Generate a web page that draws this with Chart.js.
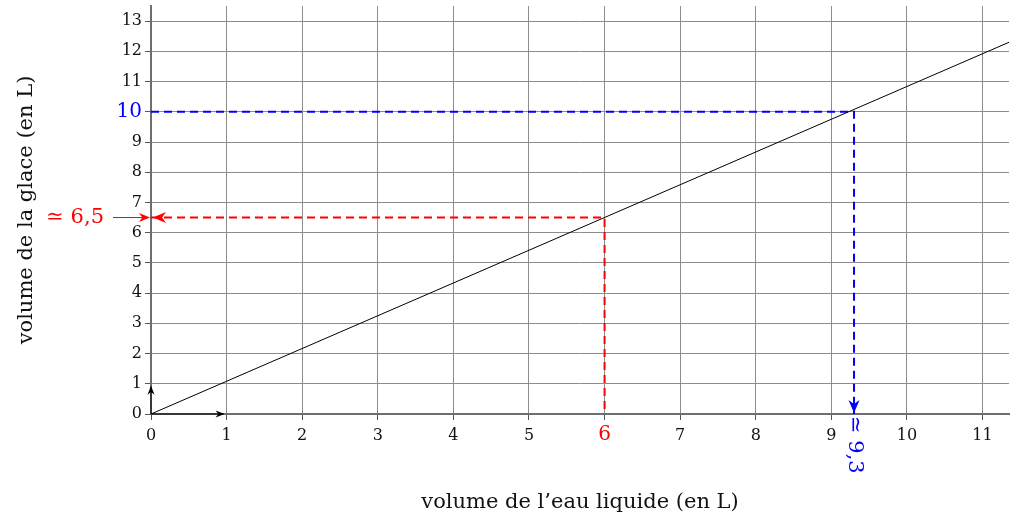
<!DOCTYPE html>
<html>

<head>
  <title>Volume de la glace</title>
  <script src="https://cdn.jsdelivr.net/npm/chart.js"></script>
  <style>
    body { margin: 0; background: #fff; }
    #wrap { width: 1010px; height: 517px; }
  </style>
</head>

<body>
  <div id="wrap"><canvas id="iceChart"></canvas></div>
  <script>
    // droite : volume d'eau liquide (L) -> volume de glace (L)
    var waterVolume = [0, 11.35];
    var iceVolume = [0, 12.3];

    // lectures graphiques
    var readWater = 6;      // image de 6 ...
    var readIce = 6.5;      // ... environ 6,5
    var targetIce = 10;     // antecedent de 10 ...
    var targetWater = 9.3;  // ... environ 9,3

    var xTicks = [0, 1, 2, 3, 4, 5, 6, 7, 8, 9, 10, 11];
    var yTicks = [0, 1, 2, 3, 4, 5, 6, 7, 8, 9, 10, 11, 12, 13];
    var xMax = 11.35;
    var yMax = 13.5;

    var RED = '#ff0000';
    var BLUE = '#0000ff';
    var FONT = "'DejaVu Serif', serif";

    function arrowHead(ctx, x, y, angle, len, half, color) {
      ctx.save();
      ctx.translate(x, y);
      ctx.rotate(angle);
      ctx.fillStyle = color;
      ctx.beginPath();
      ctx.moveTo(0, 0);
      ctx.lineTo(-len, -half);
      ctx.lineTo(-len * 0.7, 0);
      ctx.lineTo(-len, half);
      ctx.closePath();
      ctx.fill();
      ctx.restore();
    }

    // fleches, base (i, j) et valeurs lues
    var readingsPlugin = {
      id: 'readings',
      afterDatasetsDraw: function (chart) {
        var ctx = chart.ctx;
        var xs = chart.scales.x;
        var ys = chart.scales.y;
        var ox = xs.getPixelForValue(0);
        var oy = ys.getPixelForValue(0);

        ctx.save();
        // vecteurs unitaires
        ctx.strokeStyle = '#000';
        ctx.lineWidth = 1;
        ctx.beginPath();
        ctx.moveTo(ox, oy);
        ctx.lineTo(xs.getPixelForValue(1) - 3, oy);
        ctx.moveTo(ox, oy);
        ctx.lineTo(ox, ys.getPixelForValue(1) + 3);
        ctx.stroke();
        arrowHead(ctx, xs.getPixelForValue(1) - 2, oy, 0, 9, 3.5, '#000');
        arrowHead(ctx, ox, ys.getPixelForValue(1) + 2, -Math.PI / 2, 9, 3.5, '#000');

        // lecture rouge
        var ry = ys.getPixelForValue(readIce);
        arrowHead(ctx, ox + 2, ry, Math.PI, 13, 5.5, RED);
        ctx.strokeStyle = RED;
        ctx.beginPath();
        ctx.moveTo(ox - 38, ry);
        ctx.lineTo(ox - 6, ry);
        ctx.stroke();
        arrowHead(ctx, ox - 1, ry, 0, 11, 4.5, RED);
        ctx.fillStyle = RED;
        ctx.font = '21px ' + FONT;
        ctx.textAlign = 'right';
        ctx.textBaseline = 'middle';
        ctx.fillText('\u2243 6,5', ox - 47, ry);

        // lecture bleue
        var bx = xs.getPixelForValue(targetWater);
        arrowHead(ctx, bx, oy - 1, Math.PI / 2, 13, 5.5, BLUE);
        ctx.fillStyle = BLUE;
        ctx.translate(bx, oy + 2);
        ctx.rotate(Math.PI / 2);
        ctx.textAlign = 'left';
        ctx.fillText('\u2243 9,3', 0, 0);
        ctx.restore();
      }
    };

    function dashed(points, color) {
      return {
        data: points,
        borderColor: color,
        borderWidth: 2,
        borderDash: [8, 5],
        pointRadius: 0,
        fill: false,
        clip: false
      };
    }

    var ctx = document.getElementById('iceChart').getContext('2d');
    var chart = new Chart(ctx, {
      type: 'line',
      data: {
        datasets: [
          {
            data: waterVolume.map(function (w, i) { return { x: w, y: iceVolume[i] }; }),
            borderColor: '#000',
            borderWidth: 1,
            pointRadius: 0,
            fill: false
          },
          dashed([{ x: 0, y: readIce }, { x: readWater, y: readIce }, { x: readWater, y: 0 }], RED),
          dashed([{ x: 0, y: targetIce }, { x: targetWater, y: targetIce }, { x: targetWater, y: 0 }], BLUE)
        ]
      },
      options: {
        responsive: true,
        maintainAspectRatio: false,
        animation: false,
        layout: { padding: { top: 6, right: 1, left: 0, bottom: 0 } },
        plugins: {
          legend: { display: false },
          tooltip: { enabled: false }
        },
        scales: {
          x: {
            type: 'linear',
            min: 0,
            max: xMax,
            afterBuildTicks: function (scale) {
              scale.ticks = xTicks.map(function (v) { return { value: v }; });
            },
            afterFit: function (scale) { scale.height = 103; },
            grid: { color: '#8c8c8c', lineWidth: 1, tickLength: 6, tickColor: '#555' },
            border: { color: '#6e6e6e', width: 2 },
            ticks: {
              padding: 6,
              maxRotation: 0,
              color: function (c) { return c.tick && c.tick.value === readWater ? RED : '#111'; },
              font: function (c) {
                return c.tick && c.tick.value === readWater
                  ? { family: FONT, size: 20, lineHeight: 0.9 }
                  : { family: FONT, size: 16 };
              }
            },
            title: {
              display: true,
              text: 'volume de l\u2019eau liquide (en L)',
              color: '#111',
              font: { family: FONT, size: 21 },
              padding: { top: 0, bottom: 2 }
            }
          },
          y: {
            type: 'linear',
            min: 0,
            max: yMax,
            afterBuildTicks: function (scale) {
              scale.ticks = yTicks.map(function (v) { return { value: v }; });
            },
            afterFit: function (scale) {
              scale.width = 151;
              scale.paddingTop = 0;
            },
            grid: { color: '#8c8c8c', lineWidth: 1, tickLength: 6, tickColor: '#555' },
            border: { color: '#6e6e6e', width: 2 },
            ticks: {
              padding: 3,
              color: function (c) { return c.tick && c.tick.value === targetIce ? BLUE : '#111'; },
              font: function (c) {
                return { family: FONT, size: c.tick && c.tick.value === targetIce ? 20 : 16 };
              }
            },
            title: {
              display: true,
              text: 'volume de la glace (en L)',
              color: '#111',
              font: { family: FONT, size: 21 },
              padding: { top: 14, bottom: 0 }
            }
          }
        }
      },
      plugins: [readingsPlugin]
    });
  </script>
</body>

</html>
